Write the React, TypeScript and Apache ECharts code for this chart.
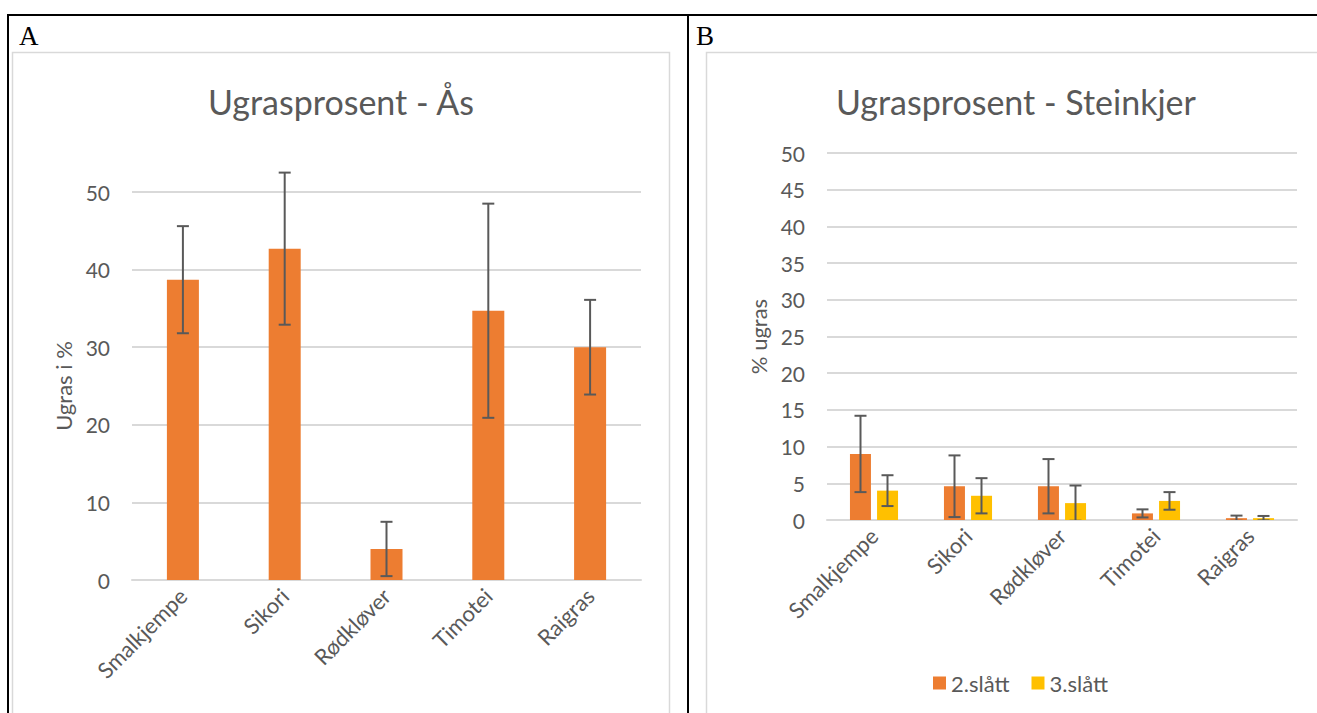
import React, { useEffect, useRef } from "react";
import * as echarts from "echarts";

const categories = ["Smalkjempe", "Sikori", "Rødkløver", "Timotei", "Raigras"];
const asValues = [38.7, 42.7, 4.0, 34.7, 30.0];
const asErrors = [6.9, 9.8, 3.5, 13.8, 6.1];
const slatt2Values = [9.0, 4.6, 4.6, 0.9, 0.25];
const slatt2Errors = [5.2, 4.2, 3.7, 0.55, 0.35];
const slatt3Values = [4.0, 3.3, 2.3, 2.6, 0.25];
const slatt3Errors = [2.1, 2.4, 2.4, 1.2, 0.3];
const seriesNames = ["2.slått", "3.slått"];
const titleA = "Ugrasprosent - Ås";
const titleB = "Ugrasprosent - Steinkjer";
const yNameA = "Ugras i %";
const yNameB = "% ugras";

const ORANGE = "#ED7D31";
const YELLOW = "#FFC000";
const TEXT = "#595959";
const GRID = "#D9D9D9";
const FONT = "Lato, 'Open Sans', sans-serif";

function errData(vals: number[], errs: number[]) {
  return vals.map((v, i) => [i, v - errs[i], v + errs[i]]);
}

function errRender(offset: number) {
  return (params: any, api: any) => {
    const x = api.value(0);
    const lo = api.coord([x, api.value(1)]);
    const hi = api.coord([x, api.value(2)]);
    const cx = lo[0] + offset;
    const half = 6;
    const style = { stroke: TEXT, lineWidth: 2 };
    return {
      type: "group",
      children: [
        { type: "line", shape: { x1: cx, y1: lo[1], x2: cx, y2: hi[1] }, style },
        { type: "line", shape: { x1: cx - half, y1: hi[1], x2: cx + half, y2: hi[1] }, style },
        { type: "line", shape: { x1: cx - half, y1: lo[1], x2: cx + half, y2: lo[1] }, style },
      ],
    };
  };
}

export default function App() {
  const ref = useRef<HTMLDivElement>(null);
  useEffect(() => {
    if (!ref.current) return;
    const chart = echarts.init(ref.current, undefined, { renderer: "svg" });
    const axisLabel = { color: TEXT, fontSize: 21, fontFamily: FONT };
    const xAxisBase = {
      type: "category",
      data: categories,
      axisLine: { show: true, lineStyle: { color: GRID, width: 2 } },
      axisTick: { show: false },
      axisLabel: { ...axisLabel, fontSize: 22, rotate: 45, margin: 12, interval: 0 },
    };
    const yAxisBase = {
      type: "value",
      min: 0,
      max: 50,
      axisLine: { show: false },
      axisTick: { show: false },
      splitLine: { lineStyle: { color: GRID, width: 2 } },
      axisLabel: { ...axisLabel, margin: 22 },
      nameLocation: "middle",
      nameTextStyle: { color: TEXT, fontSize: 22, fontFamily: FONT },
    };
    chart.setOption({
      animation: false,
      backgroundColor: "#ffffff",
      grid: [
        { left: 132, top: 192, width: 509, height: 388 },
        { left: 827, top: 153, width: 470, height: 367 },
      ],
      xAxis: [
        { ...xAxisBase, gridIndex: 0 },
        { ...xAxisBase, gridIndex: 1 },
      ],
      yAxis: [
        { ...yAxisBase, gridIndex: 0, interval: 10, name: yNameA, nameGap: 58 },
        { ...yAxisBase, gridIndex: 1, interval: 5, name: yNameB, nameGap: 58 },
      ],
      legend: {
        data: seriesNames,
        left: 928,
        top: 667,
        itemWidth: 13,
        itemHeight: 13,
        itemGap: 22,
        icon: "rect",
        textStyle: { color: TEXT, fontSize: 22, fontFamily: FONT },
      },
      series: [
        {
          type: "bar",
          xAxisIndex: 0,
          yAxisIndex: 0,
          data: asValues,
          barWidth: 32,
          itemStyle: { color: ORANGE },
        },
        {
          type: "custom",
          xAxisIndex: 0,
          yAxisIndex: 0,
          data: errData(asValues, asErrors),
          encode: { x: 0, y: [1, 2] },
          renderItem: errRender(0),
          z: 5,
        },
        {
          type: "bar",
          name: seriesNames[0],
          xAxisIndex: 1,
          yAxisIndex: 1,
          data: slatt2Values,
          barWidth: 21,
          barGap: "29%",
          itemStyle: { color: ORANGE },
        },
        {
          type: "bar",
          name: seriesNames[1],
          xAxisIndex: 1,
          yAxisIndex: 1,
          data: slatt3Values,
          barWidth: 21,
          barGap: "29%",
          itemStyle: { color: YELLOW },
        },
        {
          type: "custom",
          xAxisIndex: 1,
          yAxisIndex: 1,
          data: errData(slatt2Values, slatt2Errors),
          encode: { x: 0, y: [1, 2] },
          renderItem: errRender(-13.5),
          clip: true,
          z: 5,
        },
        {
          type: "custom",
          xAxisIndex: 1,
          yAxisIndex: 1,
          data: errData(slatt3Values, slatt3Errors),
          encode: { x: 0, y: [1, 2] },
          renderItem: errRender(13.5),
          clip: true,
          z: 5,
        },
      ],
      graphic: [
        { type: "rect", shape: { x: 12.5, y: 52.5, width: 657, height: 700 }, style: { fill: "none", stroke: GRID, lineWidth: 1.5 }, z: -1 },
        { type: "rect", shape: { x: 706.5, y: 52.5, width: 700, height: 700 }, style: { fill: "none", stroke: GRID, lineWidth: 1.5 }, z: -1 },
        { type: "line", shape: { x1: 7, y1: 15, x2: 1317, y2: 15 }, style: { stroke: "#000", lineWidth: 2 } },
        { type: "line", shape: { x1: 8, y1: 15, x2: 8, y2: 713 }, style: { stroke: "#000", lineWidth: 2 } },
        { type: "line", shape: { x1: 688, y1: 15, x2: 688, y2: 713 }, style: { stroke: "#000", lineWidth: 2 } },
        { type: "text", style: { text: "A", x: 19, y: 22, fill: "#000", font: "27px 'Liberation Serif', 'Times New Roman', serif" } },
        { type: "text", style: { text: "B", x: 696, y: 22, fill: "#000", font: "27px 'Liberation Serif', 'Times New Roman', serif" } },
        { type: "text", style: { text: titleA, x: 341, y: 101, textAlign: "center", textVerticalAlign: "middle", fill: TEXT, font: `34px ${FONT}` } },
        { type: "text", style: { text: titleB, x: 1016, y: 101, textAlign: "center", textVerticalAlign: "middle", fill: TEXT, font: `34px ${FONT}` } },
      ],
    });
    return () => chart.dispose();
  }, []);
  return (
    <div
      ref={ref}
      style={{ position: "absolute", left: 0, top: 0, width: 1317, height: 713 }}
    />
  );
}
